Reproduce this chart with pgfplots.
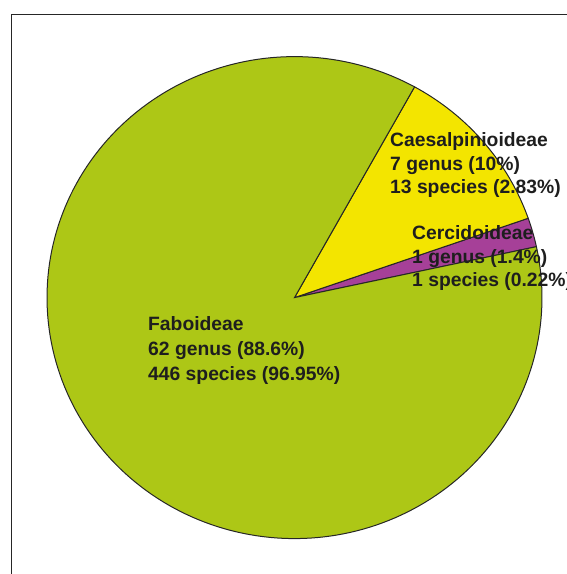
\documentclass[border=0pt]{standalone}
\usepackage{pgfplots}
\pgfplotsset{compat=1.18}
\usepackage{fontspec}
\setmainfont{Liberation Sans}
\definecolor{fabgreen}{RGB}{173,199,22}
\definecolor{caesyellow}{RGB}{243,229,0}
\definecolor{cercpurple}{RGB}{166,64,152}
\definecolor{txt}{RGB}{30,30,30}
\begin{document}
\begin{tikzpicture}
\clip (0,0) rectangle (567bp,574bp);
\begin{axis}[
  at={(0,0)}, anchor=origin,
  scale only axis, width=567bp, height=574bp,
  xmin=0, xmax=567, ymin=0, ymax=574,
  hide axis, clip=false,
]
% shares of the circle (percent) as drawn, starting angle in degrees
\pgfmathsetmacro{\cx}{294.5}
\pgfmathsetmacro{\cy}{276.4}
\pgfmathsetmacro{\rx}{247.5}
\pgfmathsetmacro{\ry}{241}
\pgfmathsetmacro{\aA}{12.2}
\pgfmathsetmacro{\aB}{\aA+3.6*1.95}   % Cercidoideae
\pgfmathsetmacro{\aC}{\aB+3.6*11.6}   % Caesalpinioideae
\pgfmathsetmacro{\aD}{\aC+3.6*86.45}  % Faboideae
\addplot[fill=cercpurple, draw=black!85, line width=1bp, domain=\aA:\aB, samples=20]
  ({\cx+\rx*cos(x)},{\cy+\ry*sin(x)}) -- (axis cs:\cx,\cy) -- cycle;
\addplot[fill=caesyellow, draw=black!85, line width=1bp, domain=\aB:\aC, samples=40]
  ({\cx+\rx*cos(x)},{\cy+\ry*sin(x)}) -- (axis cs:\cx,\cy) -- cycle;
\addplot[fill=fabgreen, draw=black!85, line width=1bp, domain=\aC:\aD, samples=200]
  ({\cx+\rx*cos(x)},{\cy+\ry*sin(x)}) -- (axis cs:\cx,\cy) -- cycle;
% frame
\draw[black!85, line width=1.4bp] (axis cs:11.7,0) -- (axis cs:11.7,559.3) -- (axis cs:580,559.3);
% labels
\tikzset{lab/.style={anchor=base west, inner sep=0pt, font=\fontsize{19.3bp}{23bp}\selectfont\bfseries, text=txt}}
\node[lab] at (axis cs:148,243) {Faboideae};
\node[lab] at (axis cs:148,218) {62 genus (88.6\%)};
\node[lab] at (axis cs:148,193) {446 species (96.95\%)};
\node[lab] at (axis cs:390,427) {Caesalpinioideae};
\node[lab] at (axis cs:390,403) {7 genus (10\%)};
\node[lab] at (axis cs:390,380) {13 species (2.83\%)};
\node[lab] at (axis cs:412,334) {Cercidoideae};
\node[lab] at (axis cs:412,310.5) {1 genus (1.4\%)};
\node[lab] at (axis cs:412,287) {1 species (0.22\%)};
\end{axis}
\end{tikzpicture}
\end{document}
